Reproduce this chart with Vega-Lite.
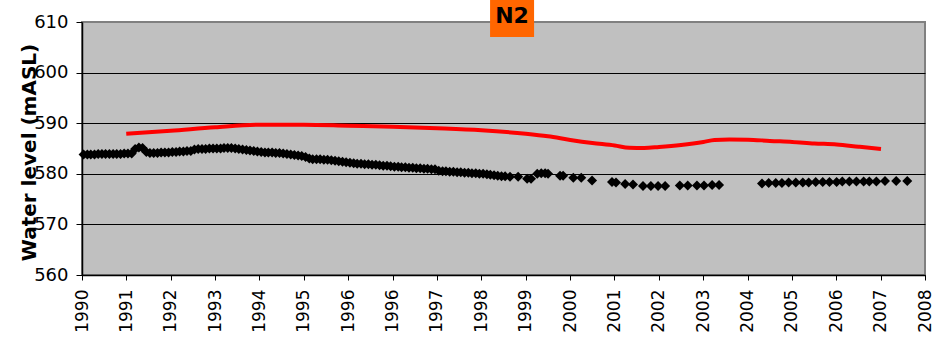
{
  "$schema": "https://vega.github.io/schema/vega-lite/v6.json",
  "width": 843,
  "height": 253,
  "autosize": "none",
  "padding": {"left": 82, "top": 22, "right": 19, "bottom": 75},
  "background": "white",
  "config": {
    "view": {"fill": "#C0C0C0", "stroke": "#808080", "strokeWidth": 2},
    "font": "DejaVu Sans"
  },
  "datasets": {
    "obs": [
      {"date": "1990-01-15", "level": 583.8}, {"date": "1990-02-15", "level": 583.8}, {"date": "1990-03-15", "level": 583.8}, {"date": "1990-04-15", "level": 583.8},
      {"date": "1990-05-15", "level": 583.9}, {"date": "1990-06-15", "level": 583.9}, {"date": "1990-07-15", "level": 583.9}, {"date": "1990-08-15", "level": 583.9},
      {"date": "1990-09-15", "level": 583.9}, {"date": "1990-10-15", "level": 583.9}, {"date": "1990-11-15", "level": 583.9}, {"date": "1990-12-15", "level": 584.0},
      {"date": "1991-01-15", "level": 584.0}, {"date": "1991-02-15", "level": 584.0}, {"date": "1991-03-15", "level": 584.9}, {"date": "1991-04-15", "level": 585.2},
      {"date": "1991-05-15", "level": 585.1}, {"date": "1991-06-15", "level": 584.3}, {"date": "1991-07-15", "level": 584.1}, {"date": "1991-08-15", "level": 584.1},
      {"date": "1991-09-15", "level": 584.1}, {"date": "1991-10-15", "level": 584.2}, {"date": "1991-11-15", "level": 584.2}, {"date": "1991-12-15", "level": 584.2},
      {"date": "1992-01-15", "level": 584.3}, {"date": "1992-02-15", "level": 584.3}, {"date": "1992-03-15", "level": 584.4}, {"date": "1992-04-15", "level": 584.4},
      {"date": "1992-05-15", "level": 584.5}, {"date": "1992-06-15", "level": 584.5}, {"date": "1992-07-15", "level": 584.8}, {"date": "1992-08-15", "level": 584.9},
      {"date": "1992-09-15", "level": 584.9}, {"date": "1992-10-15", "level": 584.9}, {"date": "1992-11-15", "level": 585.0}, {"date": "1992-12-15", "level": 585.0},
      {"date": "1993-01-15", "level": 585.0}, {"date": "1993-02-15", "level": 585.0}, {"date": "1993-03-15", "level": 585.1}, {"date": "1993-04-15", "level": 585.1},
      {"date": "1993-05-15", "level": 585.1}, {"date": "1993-06-15", "level": 585.0}, {"date": "1993-07-15", "level": 584.9}, {"date": "1993-08-15", "level": 584.8},
      {"date": "1993-09-15", "level": 584.7}, {"date": "1993-10-15", "level": 584.6}, {"date": "1993-11-15", "level": 584.5}, {"date": "1993-12-15", "level": 584.4},
      {"date": "1994-01-15", "level": 584.3}, {"date": "1994-02-15", "level": 584.2}, {"date": "1994-03-15", "level": 584.2}, {"date": "1994-04-15", "level": 584.2},
      {"date": "1994-05-15", "level": 584.1}, {"date": "1994-06-15", "level": 584.1}, {"date": "1994-07-15", "level": 584.0}, {"date": "1994-08-15", "level": 583.9},
      {"date": "1994-09-15", "level": 583.8}, {"date": "1994-10-15", "level": 583.7}, {"date": "1994-11-15", "level": 583.6}, {"date": "1994-12-15", "level": 583.5},
      {"date": "1995-01-15", "level": 583.3}, {"date": "1995-02-15", "level": 583.0}, {"date": "1995-03-15", "level": 582.9}, {"date": "1995-04-15", "level": 582.9},
      {"date": "1995-05-15", "level": 582.9}, {"date": "1995-06-15", "level": 582.8}, {"date": "1995-07-15", "level": 582.8}, {"date": "1995-08-15", "level": 582.7},
      {"date": "1995-09-15", "level": 582.6}, {"date": "1995-10-15", "level": 582.5}, {"date": "1995-11-15", "level": 582.4}, {"date": "1995-12-15", "level": 582.3},
      {"date": "1996-01-15", "level": 582.2}, {"date": "1996-02-15", "level": 582.1}, {"date": "1996-03-15", "level": 582.0}, {"date": "1996-04-15", "level": 582.0},
      {"date": "1996-05-15", "level": 581.9}, {"date": "1996-06-15", "level": 581.9}, {"date": "1996-07-15", "level": 581.8}, {"date": "1996-08-15", "level": 581.8},
      {"date": "1996-09-15", "level": 581.7}, {"date": "1996-10-15", "level": 581.6}, {"date": "1996-11-15", "level": 581.6}, {"date": "1996-12-15", "level": 581.5},
      {"date": "1997-01-15", "level": 581.4}, {"date": "1997-02-15", "level": 581.4}, {"date": "1997-03-15", "level": 581.3}, {"date": "1997-04-15", "level": 581.3},
      {"date": "1997-05-15", "level": 581.2}, {"date": "1997-06-15", "level": 581.2}, {"date": "1997-07-15", "level": 581.1}, {"date": "1997-08-15", "level": 581.1},
      {"date": "1997-09-15", "level": 581.0}, {"date": "1997-10-15", "level": 581.0}, {"date": "1997-11-15", "level": 580.9}, {"date": "1997-12-15", "level": 580.9},
      {"date": "1998-01-15", "level": 580.6}, {"date": "1998-02-15", "level": 580.5}, {"date": "1998-03-15", "level": 580.5}, {"date": "1998-04-15", "level": 580.4},
      {"date": "1998-05-15", "level": 580.4}, {"date": "1998-06-15", "level": 580.3}, {"date": "1998-07-15", "level": 580.3}, {"date": "1998-08-15", "level": 580.2},
      {"date": "1998-09-15", "level": 580.2}, {"date": "1998-10-15", "level": 580.1}, {"date": "1998-11-15", "level": 580.1}, {"date": "1998-12-15", "level": 580.0},
      {"date": "1999-01-15", "level": 580.0}, {"date": "1999-02-15", "level": 579.9}, {"date": "1999-03-15", "level": 579.8}, {"date": "1999-04-15", "level": 579.7},
      {"date": "1999-05-15", "level": 579.6}, {"date": "1999-06-15", "level": 579.5}, {"date": "1999-07-15", "level": 579.5},
      {"date": "1999-08-24", "level": 579.4}, {"date": "1999-10-30", "level": 579.4}, {"date": "2000-01-12", "level": 579.0}, {"date": "2000-02-13", "level": 579.0},
      {"date": "2000-04-04", "level": 580.0}, {"date": "2000-05-07", "level": 580.1}, {"date": "2000-06-08", "level": 580.1}, {"date": "2000-07-02", "level": 580.0},
      {"date": "2000-10-09", "level": 579.6}, {"date": "2000-11-03", "level": 579.6},
      {"date": "2001-01-26", "level": 579.2}, {"date": "2001-04-01", "level": 579.2}, {"date": "2001-06-29", "level": 578.7},
      {"date": "2001-12-10", "level": 578.4}, {"date": "2002-01-12", "level": 578.3}, {"date": "2002-03-28", "level": 578.0}, {"date": "2002-06-01", "level": 577.9},
      {"date": "2002-08-22", "level": 577.6}, {"date": "2002-10-26", "level": 577.6}, {"date": "2002-12-24", "level": 577.6}, {"date": "2003-02-20", "level": 577.6},
      {"date": "2003-06-21", "level": 577.7}, {"date": "2003-08-25", "level": 577.7}, {"date": "2003-11-09", "level": 577.7}, {"date": "2004-01-06", "level": 577.7},
      {"date": "2004-03-13", "level": 577.8}, {"date": "2004-05-09", "level": 577.8},
      {"date": "2005-04-27", "level": 578.1}, {"date": "2005-06-21", "level": 578.2}, {"date": "2005-08-18", "level": 578.2}, {"date": "2005-10-08", "level": 578.2},
      {"date": "2005-12-02", "level": 578.3}, {"date": "2006-01-30", "level": 578.3}, {"date": "2006-03-29", "level": 578.3}, {"date": "2006-05-16", "level": 578.3},
      {"date": "2006-07-13", "level": 578.4}, {"date": "2006-09-09", "level": 578.4}, {"date": "2006-11-03", "level": 578.4}, {"date": "2007-01-01", "level": 578.4},
      {"date": "2007-02-17", "level": 578.5}, {"date": "2007-04-16", "level": 578.5}, {"date": "2007-06-13", "level": 578.5}, {"date": "2007-08-11", "level": 578.5},
      {"date": "2007-09-27", "level": 578.5}, {"date": "2007-11-24", "level": 578.5},
      {"date": "2008-02-03", "level": 578.6}, {"date": "2008-05-05", "level": 578.6}, {"date": "2008-08-04", "level": 578.6}
    ],
    "sim": [
      {"date": "1991-01-01", "level": 587.9}, {"date": "1992-01-01", "level": 588.5}, {"date": "1993-01-01", "level": 589.2},
      {"date": "1994-01-01", "level": 589.7}, {"date": "1995-01-01", "level": 589.7}, {"date": "1996-01-01", "level": 589.5},
      {"date": "1997-01-01", "level": 589.3}, {"date": "1998-01-01", "level": 589.0}, {"date": "1999-01-01", "level": 588.6},
      {"date": "2000-01-01", "level": 587.9}, {"date": "2000-07-01", "level": 587.4}, {"date": "2001-01-01", "level": 586.7},
      {"date": "2001-07-01", "level": 586.1}, {"date": "2002-01-01", "level": 585.6}, {"date": "2002-05-01", "level": 585.15},
      {"date": "2002-09-01", "level": 585.1}, {"date": "2003-01-01", "level": 585.3}, {"date": "2003-07-01", "level": 585.7},
      {"date": "2004-01-01", "level": 586.3}, {"date": "2004-04-01", "level": 586.7}, {"date": "2004-08-01", "level": 586.8},
      {"date": "2005-01-01", "level": 586.75}, {"date": "2005-07-01", "level": 586.5}, {"date": "2006-01-01", "level": 586.3},
      {"date": "2006-07-01", "level": 586.0}, {"date": "2007-01-01", "level": 585.8}, {"date": "2007-07-01", "level": 585.35},
      {"date": "2008-01-01", "level": 584.9}
    ],
    "box": [
      {"date": "1999-03-13", "date2": "2000-03-09", "level": 607.04, "level2": 614.4}
    ],
    "label": [
      {"date": "1999-09-10", "level": 609.74, "text": "N2"}
    ]
  },
  "encoding": {
    "x": {
      "field": "date",
      "type": "temporal",
      "scale": {"domain": [{"year": 1990, "month": 1, "date": 2}, {"year": 2008, "month": 12, "date": 28}]},
      "axis": {
        "title": null,
        "values": [
          {"year": 1990, "month": 1, "date": 2}, {"year": 1991, "month": 1, "date": 2}, {"year": 1992, "month": 1, "date": 2},
          {"year": 1993, "month": 1, "date": 1}, {"year": 1994, "month": 1, "date": 1}, {"year": 1995, "month": 1, "date": 1},
          {"year": 1996, "month": 1, "date": 1}, {"year": 1996, "month": 12, "date": 31}, {"year": 1997, "month": 12, "date": 31},
          {"year": 1998, "month": 12, "date": 31}, {"year": 1999, "month": 12, "date": 31}, {"year": 2000, "month": 12, "date": 30},
          {"year": 2001, "month": 12, "date": 30}, {"year": 2002, "month": 12, "date": 30}, {"year": 2003, "month": 12, "date": 30},
          {"year": 2004, "month": 12, "date": 29}, {"year": 2005, "month": 12, "date": 29}, {"year": 2006, "month": 12, "date": 29},
          {"year": 2007, "month": 12, "date": 29}, {"year": 2008, "month": 12, "date": 28}
        ],
        "format": "%Y",
        "labelAngle": -90,
        "labelFont": "DejaVu Sans",
        "labelFontSize": 17,
        "labelColor": "black",
        "labelPadding": 9,
        "labelOverlap": false,
        "labelFlush": false,
        "labelBound": false,
        "tickColor": "black",
        "tickSize": 5,
        "domainColor": "black",
        "domainWidth": 1.5,
        "grid": false
      }
    },
    "y": {
      "field": "level",
      "type": "quantitative",
      "scale": {"domain": [560, 610], "nice": false, "zero": false},
      "axis": {
        "title": "Water level (mASL)",
        "values": [560, 570, 580, 590, 600, 610],
        "format": "d",
        "grid": true,
        "gridColor": {"condition": {"test": "datum.value == 610", "value": "#808080"}, "value": "black"},
        "gridWidth": 1,
        "gridOpacity": 1,
        "tickColor": "black",
        "tickSize": 6,
        "domainColor": "black",
        "domainWidth": 1.5,
        "labelFont": "DejaVu Sans",
        "labelFontSize": 18,
        "labelColor": "black",
        "labelPadding": 8,
        "labelOverlap": false,
        "labelFlush": false,
        "titleFont": "DejaVu Sans",
        "titleFontSize": 20,
        "titleFontWeight": "bold",
        "titleColor": "black",
        "titleAngle": -90,
        "titleAlign": "center",
        "titleBaseline": "middle",
        "titleX": -53,
        "titleY": 130
      }
    }
  },
  "layer": [
    {
      "data": {"name": "obs"},
      "mark": {"type": "point", "shape": "diamond", "filled": true, "color": "black", "size": 100, "opacity": 1}
    },
    {
      "data": {"name": "sim"},
      "mark": {"type": "line", "color": "#FF0000", "strokeWidth": 4, "interpolate": "monotone"}
    },
    {
      "data": {"name": "box"},
      "mark": {"type": "rect", "color": "#FF6600", "opacity": 1},
      "encoding": {
        "x2": {"field": "date2"},
        "y2": {"field": "level2"}
      }
    },
    {
      "data": {"name": "label"},
      "mark": {"type": "text", "font": "DejaVu Sans", "fontSize": 22, "fontWeight": "bold", "color": "black", "align": "center", "baseline": "alphabetic"},
      "encoding": {
        "text": {"field": "text"}
      }
    }
  ]
}
